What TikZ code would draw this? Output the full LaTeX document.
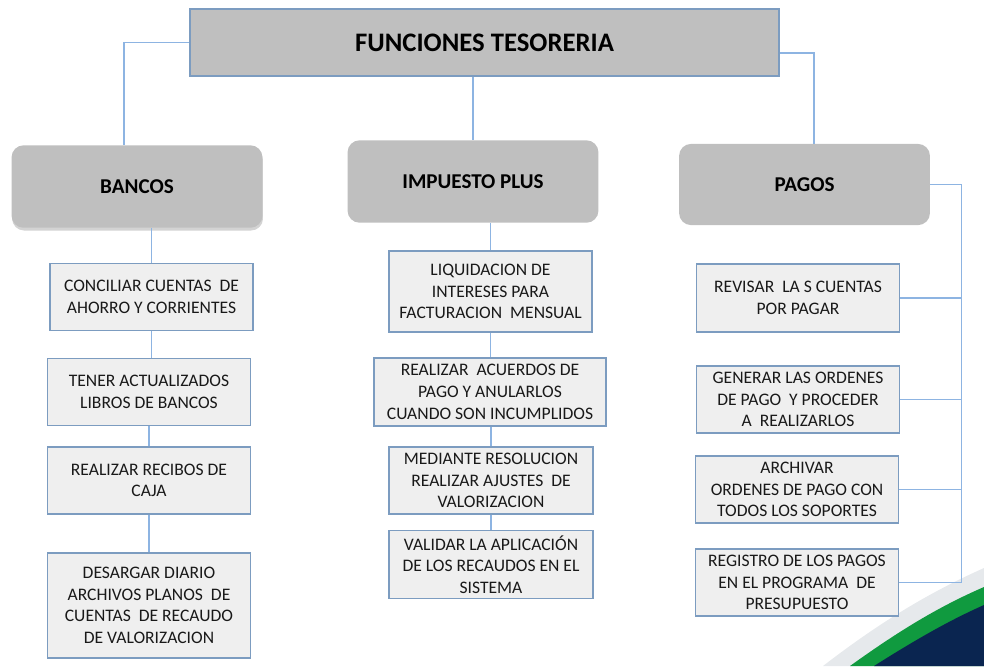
\documentclass[tikz,border=0pt]{standalone}
\usepackage{fontspec}
\setmainfont{Carlito}
\usetikzlibrary{shadows}

\definecolor{linkblue}{HTML}{8DB4E2}
\definecolor{boxedge}{HTML}{7C9CC0}
\definecolor{headfill}{HTML}{BFBFBF}
\definecolor{itemfill}{HTML}{EFEFEF}
\definecolor{swgray}{HTML}{E6E9EC}
\definecolor{swgreen}{HTML}{109A3F}
\definecolor{swnavy}{HTML}{0A2550}

\begin{document}
\begin{tikzpicture}[x=0.025cm, y=-0.025cm,
		titlebox/.style={rectangle, draw=boxedge, fill=headfill, line width=1pt, minimum width=14.73cm, minimum height=1.68cm, font=\fontsize{19}{22}\selectfont\bfseries},
		headbox/.style={rectangle, rounded corners=0.3cm, fill=headfill, minimum width=6.27cm, minimum height=2.06cm, font=\fontsize{15}{18}\selectfont\bfseries},
		itembox/.style={rectangle, draw=boxedge, fill=itemfill, line width=1pt, minimum width=5.08cm, minimum height=1.67cm, align=center, text=black!90, font=\fontsize{12.5}{15.4}\selectfont},
		link/.style={draw=linkblue, line width=0.9pt}]
		\useasboundingbox (0,0) rectangle (984,666);
		
		% swoosh in the corner
		\fill[swgray] (823,666) .. controls (880,622) and (930,592) .. (984,568) -- (984,666) -- cycle;
		\fill[swgreen] (850,666) .. controls (900,630) and (940,606) .. (984,587) -- (984,666) -- cycle;
		\fill[swnavy] (874,666) .. controls (915,640) and (950,620) .. (984,605) -- (984,666) -- cycle;
		
		\node[titlebox]	(tes) at (484.5,42.5)	{FUNCIONES TESORERIA};
		\node[headbox, drop shadow={shadow xshift=0.4pt, shadow yshift=-2pt, opacity=0.35}]	(bancos) at (137,186.5)	{BANCOS};
		\node[headbox]	(impuesto) at (473,181.5)	{IMPUESTO PLUS};
		\node[headbox, minimum height=2.03cm]	(pagos) at (804.5,184.5)	{PAGOS};
		
		\node[itembox]	(b1) at (151.5,297)	{CONCILIAR CUENTAS~ DE\\AHORRO Y CORRIENTES};
		\node[itembox]	(b2) at (149,392)	{TENER ACTUALIZADOS\\LIBROS DE BANCOS};
		\node[itembox]	(b3) at (149,480.5)	{REALIZAR RECIBOS DE\\CAJA};
		\node[itembox, minimum height=2.63cm]	(b4) at (149,605.5)	{DESARGAR DIARIO\\ARCHIVOS PLANOS~ DE\\CUENTAS~ DE RECAUDO\\DE VALORIZACION};
		
		\node[itembox, minimum height=2.03cm]	(m1) at (490.5,291.5)	{LIQUIDACION DE\\INTERESES PARA\\FACTURACION~ MENSUAL};
		\node[itembox, minimum width=5.8cm, minimum height=1.7cm]	(m2) at (490,392)	{REALIZAR~ ACUERDOS DE\\PAGO Y ANULARLOS\\CUANDO SON INCUMPLIDOS};
		\node[itembox, minimum width=5.1cm]	(m3) at (491,480.5)	{MEDIANTE RESOLUCION\\REALIZAR AJUSTES~ DE\\VALORIZACION};
		\node[itembox, minimum width=5.1cm]	(m4) at (491,564.5)	{VALIDAR LA APLICACIÓN\\DE LOS RECAUDOS EN EL\\SISTEMA};
		
		\node[itembox, minimum height=1.7cm]	(r1) at (798,298)	{REVISAR~ LA S CUENTAS\\POR PAGAR};
		\node[itembox]	(r2) at (798,399.5)	{GENERAR LAS ORDENES\\DE PAGO~ Y PROCEDER\\A~ REALIZARLOS};
		\node[itembox]	(r3) at (797,489.5)	{ARCHIVAR\\ORDENES DE PAGO CON\\TODOS LOS SOPORTES};
		\node[itembox]	(r4) at (797,582.5)	{REGISTRO DE LOS PAGOS\\EN EL PROGRAMA~ DE\\PRESUPUESTO};
		
		\draw[link] (tes.west) -| ([xshift=-0.325cm]bancos.north);
		\draw[link] (tes.south -| impuesto.north) -- (impuesto.north);
		\draw[link] ([yshift=-0.26cm]tes.east) -| ([xshift=0.24cm]pagos.north);
		
		\draw[link] (bancos.south -| b1.north) -- (b1.north);
		\draw[link] (b1.south) -- (b1.south |- b2.north);
		\draw[link] (b2.south) -- (b3.north);
		\draw[link] (b3.south) -- (b4.north);
		
		\draw[link] (impuesto.south -| m1.north) -- (m1.north);
		\draw[link] (m1.south) -- (m1.south |- m2.north);
		\draw[link] (m2.south -| m3.north) -- (m3.north);
		\draw[link] (m3.south) -- (m4.north);
		
		\coordinate (pbus) at ([xshift=0.775cm]pagos.east);
		\draw[link] (pagos.east) -- (pbus) -- (pbus |- r4.east) -- (r4.east);
		\foreach \r in {r1,r2,r3}
			\draw[link] (\r.east) -- (\r.east -| pbus);
		
\end{tikzpicture}
\end{document}
